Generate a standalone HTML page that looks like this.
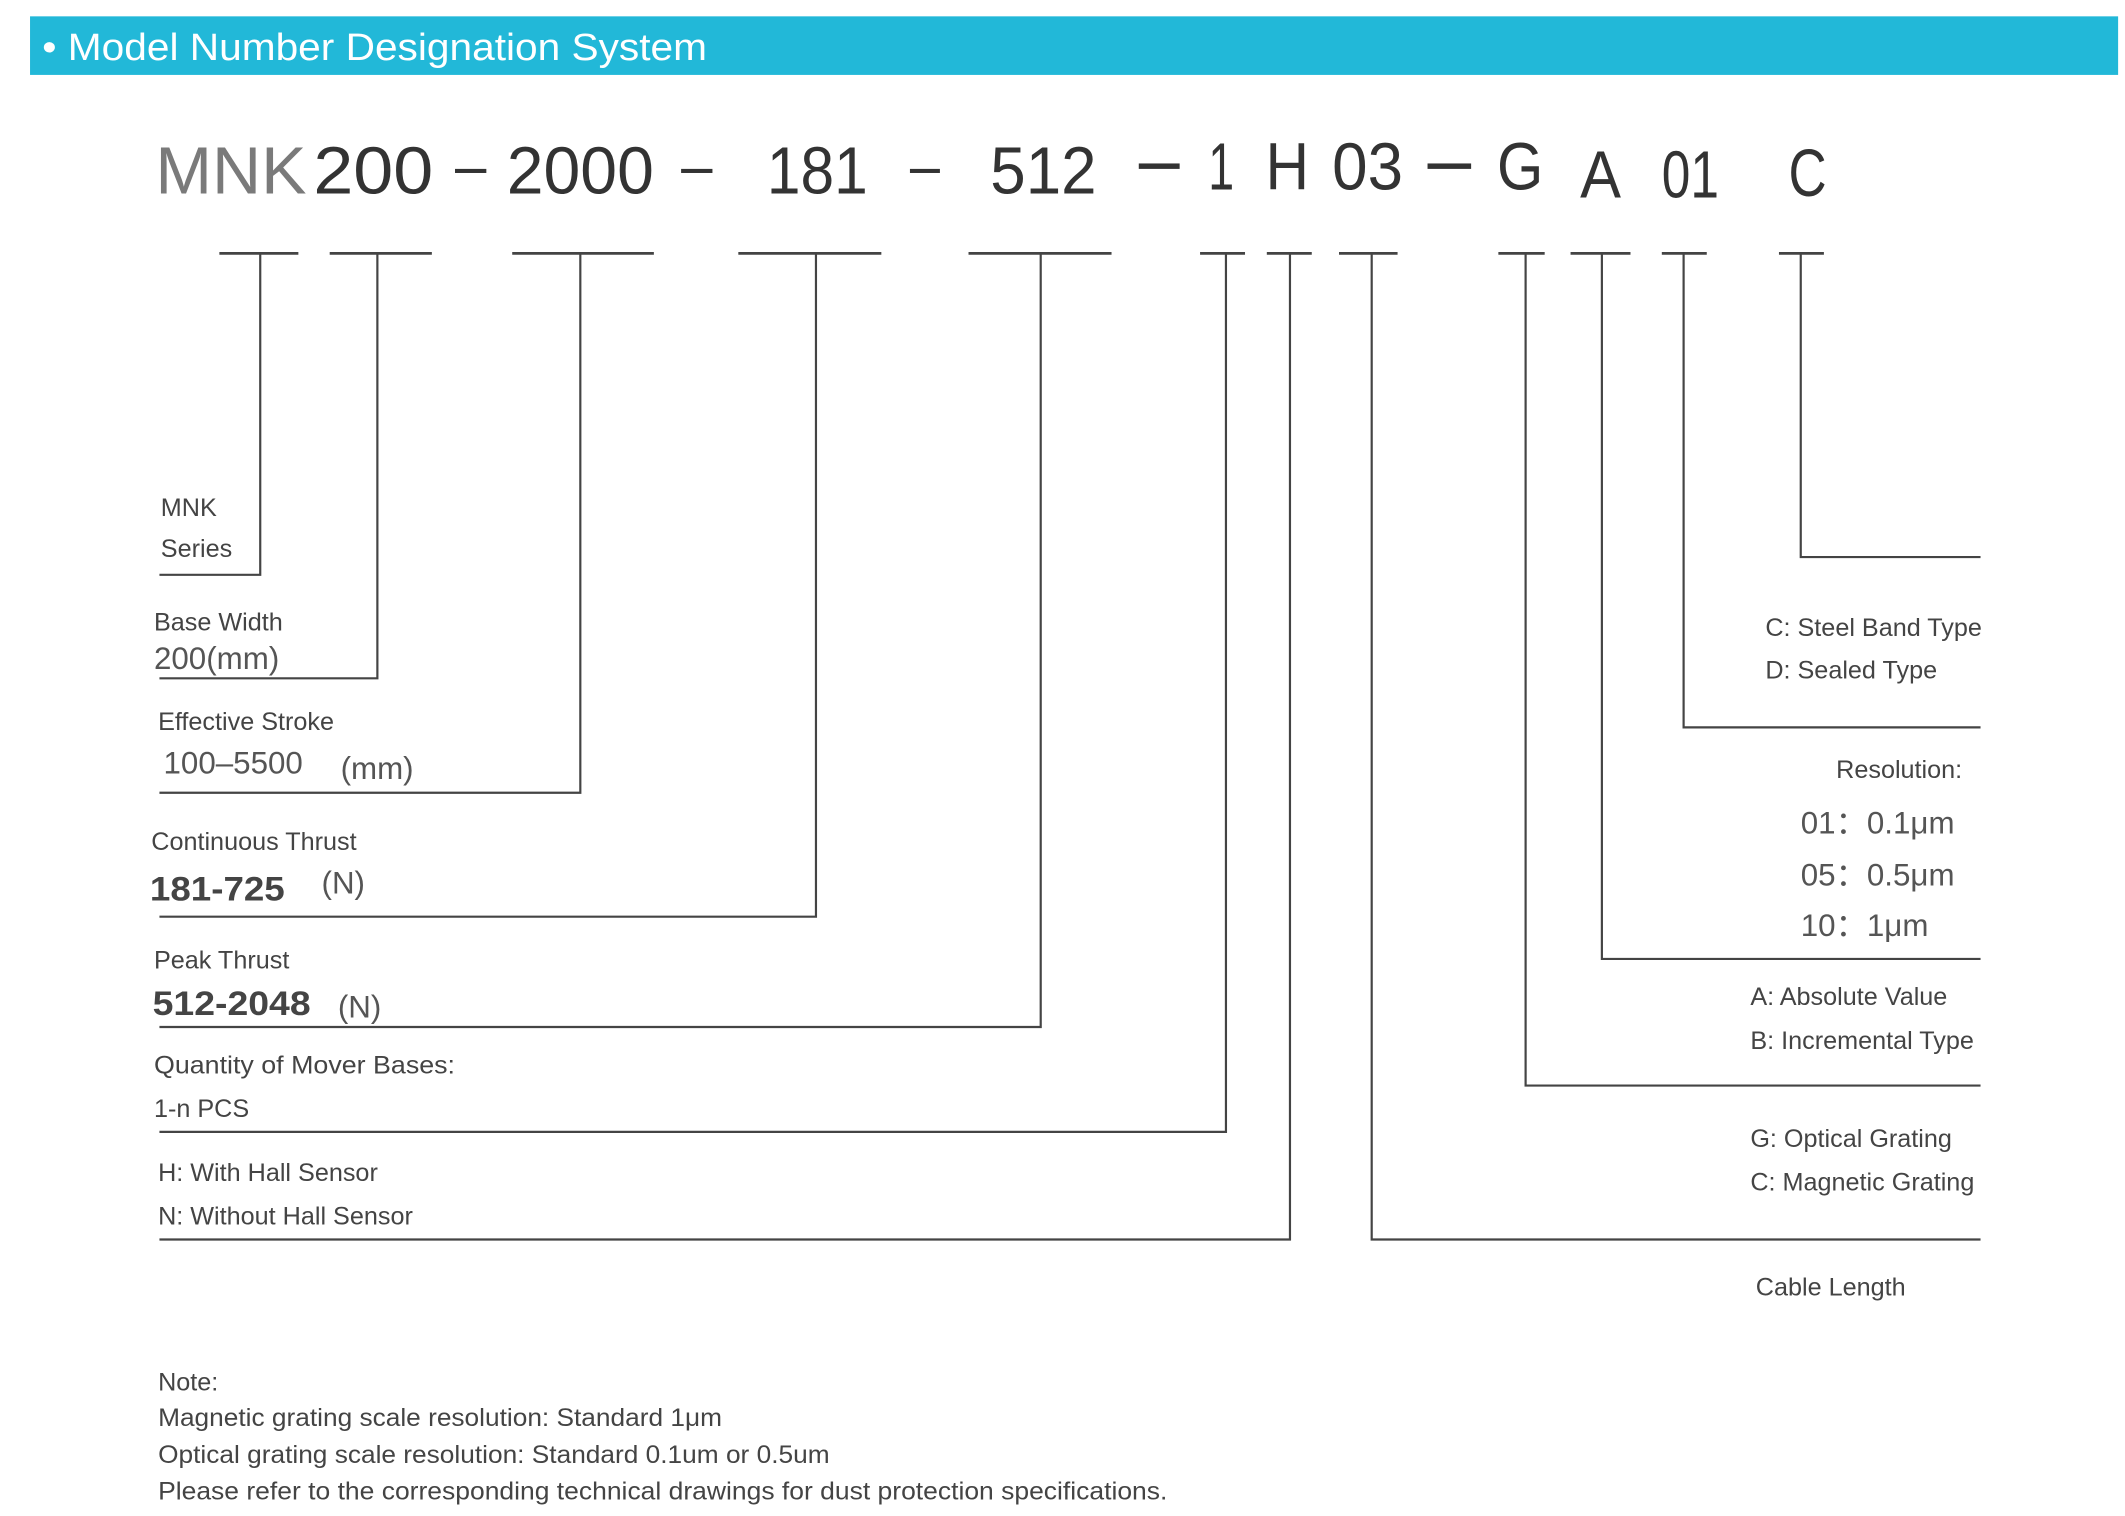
<!DOCTYPE html>
<html><head><meta charset="utf-8"><style>
html,body{margin:0;padding:0;background:#fff;}
svg{display:block;}
text{font-family:"Liberation Sans","Noto Sans CJK SC",sans-serif;fill:#444;}
</style></head><body>
<svg width="2125" height="1516" viewBox="0 0 1560 1113" xmlns="http://www.w3.org/2000/svg">
<rect x="22" y="12" width="1533" height="43" fill="#22b8d8"/>
<text x="31" y="44" font-size="28" textLength="488" lengthAdjust="spacingAndGlyphs" style="fill:#fff">• Model Number Designation System</text>

<g font-size="49">
<text x="114" y="142" textLength="111" lengthAdjust="spacingAndGlyphs" style="fill:#7a7a7a">MNK</text>
<text x="230" y="142" textLength="88" lengthAdjust="spacingAndGlyphs" style="fill:#333">200</text>
<text x="372" y="142" textLength="108" lengthAdjust="spacingAndGlyphs" style="fill:#333">2000</text>
<text x="563" y="142" textLength="74" lengthAdjust="spacingAndGlyphs" style="fill:#333">181</text>
<text x="727" y="142" textLength="78" lengthAdjust="spacingAndGlyphs" style="fill:#333">512</text>
<text x="887" y="139" textLength="19" lengthAdjust="spacingAndGlyphs" style="fill:#333">1</text>
<text x="929" y="139" textLength="32" lengthAdjust="spacingAndGlyphs" style="fill:#333">H</text>
<text x="978" y="139" textLength="52" lengthAdjust="spacingAndGlyphs" style="fill:#333">03</text>
<text x="1099" y="139" textLength="34" lengthAdjust="spacingAndGlyphs" style="fill:#333">G</text>
<text x="1160" y="145" textLength="30" lengthAdjust="spacingAndGlyphs" style="fill:#333">A</text>
<text x="1220" y="145" textLength="42" lengthAdjust="spacingAndGlyphs" style="fill:#333">01</text>
<text x="1313" y="144" textLength="28" lengthAdjust="spacingAndGlyphs" style="fill:#333">C</text>
</g>
<g fill="#333">
<rect x="334" y="124" width="23" height="3"/>
<rect x="500" y="124" width="23" height="3"/>
<rect x="668" y="124" width="22" height="3"/>
<rect x="836" y="120" width="30" height="4"/>
<rect x="1048" y="120" width="32" height="4"/>
</g>

<g stroke="#444" stroke-width="2" fill="none">
<path d="M161 186H219M242 186H317M376 186H480M542 186H647M711 186H816M881 186H914M930 186H963M983 186H1026M1100 186H1134M1153 186H1197M1220 186H1253M1306 186H1339"/>
</g>
<g stroke="#444" stroke-width="1.6" fill="none">
<path d="M191 186V422H117"/>
<path d="M277 186V498H117"/>
<path d="M426 186V582H117"/>
<path d="M599 186V673H117"/>
<path d="M764 186V754H117"/>
<path d="M900 186V831H117"/>
<path d="M947 186V910H117"/>
<path d="M1007 186V910H1454"/>
<path d="M1120 186V797H1454"/>
<path d="M1176 186V704H1454"/>
<path d="M1236 186V534H1454"/>
<path d="M1322 186V409H1454"/>
</g>

<g font-size="18.5">
<text x="118" y="379">MNK</text>
<text x="118" y="409">Series</text>
<text x="113" y="463">Base Width</text>
<text x="113" y="491" font-size="23" style="fill:#555">200(mm)</text>
<text x="116" y="536">Effective Stroke</text>
<text x="120" y="568" font-size="23" style="fill:#555">100–5500</text>
<text x="250" y="572" font-size="23" style="fill:#555">(mm)</text>
<text x="111" y="624">Continuous Thrust</text>
<text x="110" y="661" font-size="25" font-weight="bold" textLength="99" lengthAdjust="spacingAndGlyphs" style="fill:#444">181-725</text>
<text x="236" y="656" font-size="23" style="fill:#555">(N)</text>
<text x="113" y="711">Peak Thrust</text>
<text x="112" y="745" font-size="25" font-weight="bold" textLength="116" lengthAdjust="spacingAndGlyphs" style="fill:#444">512-2048</text>
<text x="248" y="747" font-size="23" style="fill:#555">(N)</text>
<text x="113" y="788" textLength="221" lengthAdjust="spacingAndGlyphs">Quantity of Mover Bases:</text>
<text x="113" y="820">1-n PCS</text>
<text x="116" y="867">H: With Hall Sensor</text>
<text x="116" y="899">N: Without Hall Sensor</text>

<text x="1296" y="467">C: Steel Band Type</text>
<text x="1296" y="498">D: Sealed Type</text>
<text x="1348" y="571">Resolution:</text>
<text x="1322" y="612" font-size="23" style="fill:#555">01：0.1μm</text>
<text x="1322" y="650" font-size="23" style="fill:#555">05：0.5μm</text>
<text x="1322" y="687" font-size="23" style="fill:#555">10：1μm</text>
<text x="1285" y="738">A: Absolute Value</text>
<text x="1285" y="770">B: Incremental Type</text>
<text x="1285" y="842">G: Optical Grating</text>
<text x="1285" y="874">C: Magnetic Grating</text>
<text x="1289" y="951">Cable Length</text>

<text x="116" y="1021">Note:</text>
<text x="116" y="1047" textLength="414" lengthAdjust="spacingAndGlyphs">Magnetic grating scale resolution: Standard 1μm</text>
<text x="116" y="1074" textLength="493" lengthAdjust="spacingAndGlyphs">Optical grating scale resolution: Standard 0.1um or 0.5um</text>
<text x="116" y="1101" textLength="741" lengthAdjust="spacingAndGlyphs">Please refer to the corresponding technical drawings for dust protection specifications.</text>
</g>
</svg>
</body></html>
